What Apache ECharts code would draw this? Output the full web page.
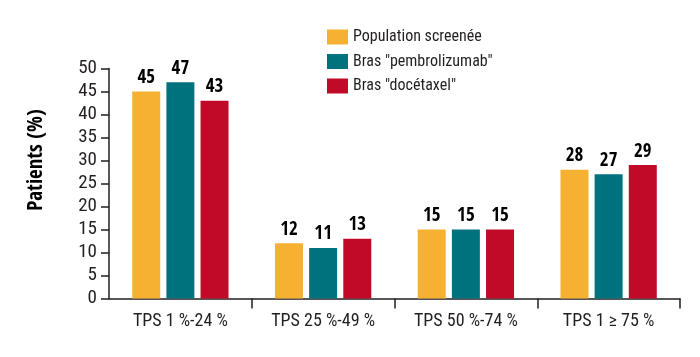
<!DOCTYPE html>
<html>
<head>
<meta charset="utf-8">
<script src="https://cdn.jsdelivr.net/npm/echarts@6/dist/echarts.min.js"></script>
<style>
html,body{margin:0;padding:0;background:#fff;}
#chart{width:700px;height:357px;}
</style>
</head>
<body>
<div id="chart"></div>
<script>
var categories = ["TPS 1 %-24 %", "TPS 25 %-49 %", "TPS 50 %-74 %", "TPS 1 \u2265 75 %"];
var seriesNames = ["Population screen\u00e9e", "Bras \"pembrolizumab\"", "Bras \"doc\u00e9taxel\""];
var population = [45, 12, 15, 28];
var pembrolizumab = [47, 11, 15, 27];
var docetaxel = [43, 13, 15, 29];
var yTicks = [0, 5, 10, 15, 20, 25, 30, 35, 40, 45, 50];

var FONT = '"Roboto Condensed", "DejaVu Sans Condensed", sans-serif';
var BOLD = '"Open Sans Condensed", "Roboto Condensed", "DejaVu Sans Condensed", sans-serif';
var colors = ["#F6B133", "#00727E", "#C00A28"];
var ink = "#231F20";

var chart = echarts.init(document.getElementById('chart'));

function barSeries(name, data, color) {
  return {
    name: name,
    type: 'bar',
    data: data,
    barWidth: 28,
    barGap: '22%',
    itemStyle: { color: color },
    label: {
      show: true,
      position: 'top',
      distance: 4,
      color: '#000',
      fontFamily: BOLD,
      fontWeight: 'bold',
      fontSize: 19
    }
  };
}

chart.setOption({
  animation: false,
  textStyle: { fontFamily: FONT },
  color: colors,
  grid: { left: 109, right: 20, top: 68.5, bottom: 58.5, containLabel: false },
  legend: {
    orient: 'vertical',
    left: 322,
    top: 24,
    itemWidth: 21,
    itemHeight: 15,
    itemGap: 8.5,
    icon: 'rect',
    textStyle: { fontFamily: FONT, fontSize: 16, color: ink },
    data: seriesNames
  },
  xAxis: {
    type: 'category',
    data: categories,
    boundaryGap: true,
    axisLine: { lineStyle: { color: ink, width: 1.5 } },
    axisTick: {
      show: true, length: 10, lineStyle: { color: ink, width: 1.5 },
      interval: function (index) { return index !== 0; }
    },
    axisLabel: { color: ink, fontFamily: FONT, fontSize: 18, margin: 14, interval: 0 }
  },
  yAxis: {
    type: 'value',
    min: yTicks[0],
    max: yTicks[yTicks.length - 1],
    interval: yTicks[1] - yTicks[0],
    splitLine: { show: false },
    axisLine: { show: true, lineStyle: { color: ink, width: 1.5 } },
    axisTick: { show: true, length: 8, lineStyle: { color: ink, width: 1.5 } },
    axisLabel: { color: ink, fontFamily: FONT, fontSize: 19, margin: 12 }
  },
  graphic: [{
    type: 'text',
    x: 37,
    y: 160,
    rotation: Math.PI / 2,
    style: {
      text: 'Patients (%)',
      fill: '#000',
      font: 'bold 21px ' + BOLD,
      textAlign: 'center',
      textVerticalAlign: 'middle'
    }
  }],
  series: [
    barSeries(seriesNames[0], population, colors[0]),
    barSeries(seriesNames[1], pembrolizumab, colors[1]),
    barSeries(seriesNames[2], docetaxel, colors[2])
  ]
});
</script>
</body>
</html>
